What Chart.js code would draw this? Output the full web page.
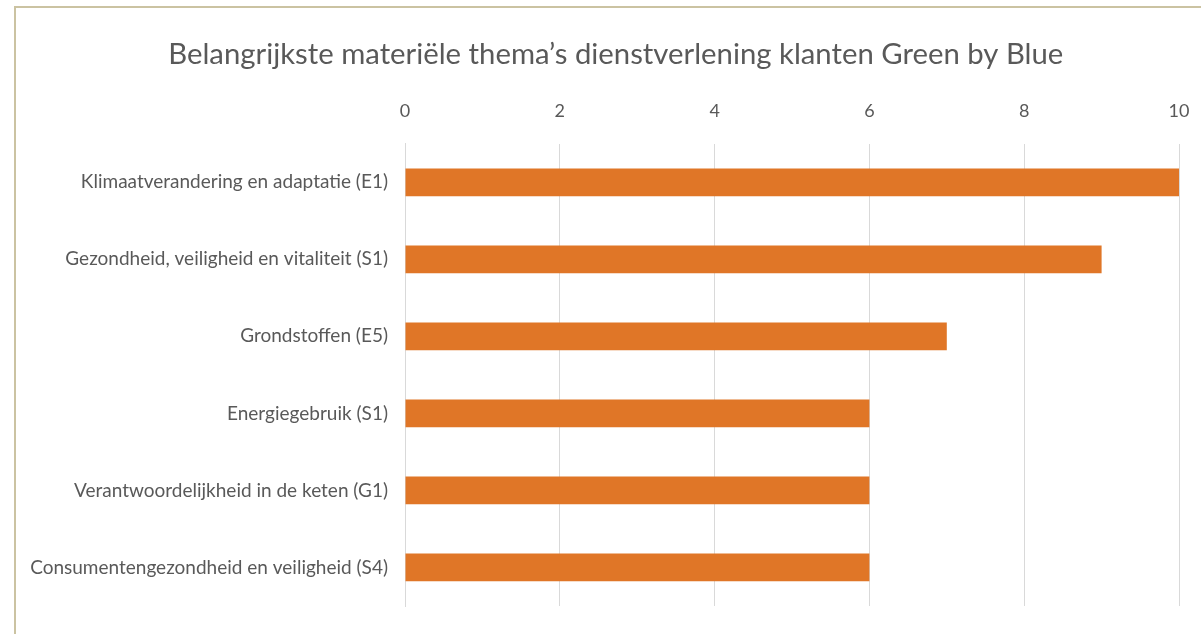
<!DOCTYPE html>
<html>
<head>
<meta charset="utf-8">
<script src="https://cdn.jsdelivr.net/npm/chart.js@4"></script>
<style>
  html, body { margin: 0; padding: 0; background: #fff; }
  #frame {
    position: absolute; left: 14px; top: 6px; width: 1300px; height: 700px;
    border-left: 2px solid #cbc3a2; border-top: 2px solid #cbc3a2;
  }
  #chart { position: absolute; left: 0; top: 0; }
</style>
</head>
<body>
<div id="frame"></div>
<canvas id="chart" width="1201" height="634"></canvas>
<script>
// thema's en scores
const themes = [
    "Klimaatverandering en adaptatie (E1)",
    "Gezondheid, veiligheid en vitaliteit (S1)",
    "Grondstoffen (E5)",
    "Energiegebruik (S1)",
    "Verantwoordelijkheid in de keten (G1)",
    "Consumentengezondheid en veiligheid (S4)"
];
const scores = [10, 9, 7, 6, 6, 6];

const grey = '#595959';
const fontName = 'Lato, "Open Sans", sans-serif';

new Chart(document.getElementById("chart"), {
    type: 'bar',
    data: {
        labels: themes,
        datasets: [{
            label: "Score",
            data: scores,
            backgroundColor: "#E07627",
            categoryPercentage: 1,
            barPercentage: 0.36
        }]
    },
    options: {
        indexAxis: 'y',
        responsive: false,
        animation: false,
        layout: { padding: { left: 30, right: 22, top: 0, bottom: 28 } },
        plugins: {
            legend: { display: false },
            tooltip: { enabled: false },
            title: {
                display: true,
                // leading spaces nudge the title a bit to the right, like the original
                text: "   Belangrijkste materiële thema’s dienstverlening klanten Green by Blue",
                color: grey,
                font: { family: fontName, size: 29.3, weight: 'normal' },
                padding: { top: 37, bottom: 6 }
            }
        },
        scales: {
            x: {
                position: 'top',
                min: 0,
                max: 10,
                ticks: { stepSize: 2, color: grey, padding: 22, font: { family: fontName, size: 18 } },
                grid: { color: '#d9d9d9', drawTicks: false },
                border: { display: false },
                afterFit: (s) => { s.paddingLeft = 0; s.paddingRight = 0; }
            },
            y: {
                grid: { display: false, drawTicks: false },
                border: { display: true, color: '#d9d9d9' },
                ticks: { color: grey, padding: 17, font: { family: fontName, size: 19 } },
                afterFit: (s) => { s.width = 375; s.paddingTop = 0; s.paddingBottom = 0; }
            }
        }
    }
});
</script>
</body>
</html>
